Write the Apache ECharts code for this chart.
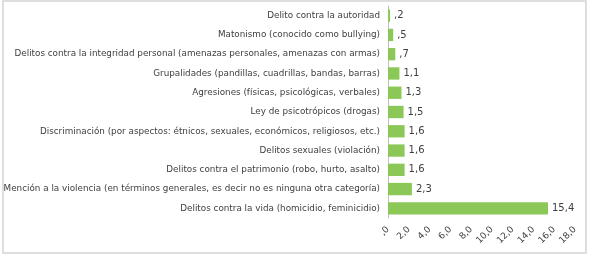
<!DOCTYPE html>
<html>
<head>
<meta charset="utf-8">
<script src="https://cdn.jsdelivr.net/npm/echarts@6/dist/echarts.min.js"></script>
<style>
  html, body { margin: 0; padding: 0; background: #fff; }
  #chart { width: 589px; height: 257px; }
</style>
</head>
<body>
<div id="chart"></div>
<script>
// categorías y porcentajes
const categories = [
  "Delito contra la autoridad",
  "Matonismo (conocido como bullying)",
  "Delitos contra la integridad personal (amenazas personales, amenazas con armas)",
  "Grupalidades (pandillas, cuadrillas, bandas, barras)",
  "Agresiones (físicas, psicológicas, verbales)",
  "Ley de psicotrópicos (drogas)",
  "Discriminación (por aspectos: étnicos, sexuales, económicos, religiosos, etc.)",
  "Delitos sexuales (violación)",
  "Delitos contra el patrimonio (robo, hurto, asalto)",
  "Mención a la violencia (en términos generales, es decir no es ninguna otra categoría)",
  "Delitos contra la vida (homicidio, feminicidio)"
];
const values = [0.2, 0.5, 0.7, 1.1, 1.3, 1.5, 1.6, 1.6, 1.6, 2.3, 15.4];
const axisMax = 18;
const axisStep = 2;

// formato con coma decimal, sin cero inicial (",2")
function fmt(v, digits) {
  let s = v.toFixed(digits).replace(".", ",");
  if (s.startsWith("0,")) s = s.slice(1);
  return s;
}

const chart = echarts.init(document.getElementById("chart"));
chart.setOption({
  animation: false,
  textStyle: { fontFamily: "DejaVu Sans" },
  graphic: [
    {
      type: "rect",
      shape: { x: 3, y: 1, width: 583, height: 252 },
      style: { fill: "none", stroke: "#d4d4d4", lineWidth: 1.5 },
      silent: true
    }
  ],
  grid: { left: 388, right: 14, top: 6, height: 212 },
  xAxis: {
    type: "value",
    min: 0,
    max: axisMax,
    interval: axisStep,
    axisLine: { show: false },
    axisTick: { show: false },
    splitLine: { show: false },
    axisLabel: {
      rotate: 45,
      fontSize: 9,
      color: "#404040",
      margin: 10,
      formatter: (v) => (v === 0 ? ",0" : fmt(v, 1))
    }
  },
  yAxis: {
    type: "category",
    inverse: true,
    data: categories,
    axisLine: { lineStyle: { color: "#bfbfbf", width: 1 } },
    axisTick: { length: 3, lineStyle: { color: "#bfbfbf" } },
    axisLabel: { fontSize: 8.8, color: "#404040", margin: 8 }
  },
  series: [
    {
      type: "bar",
      data: values,
      barCategoryGap: "36%",
      itemStyle: { color: "#8cc858" },
      label: {
        show: true,
        position: "right",
        distance: 4,
        fontSize: 10,
        color: "#404040",
        formatter: (p) => fmt(p.value, 1)
      }
    }
  ]
});
</script>
</body>
</html>
